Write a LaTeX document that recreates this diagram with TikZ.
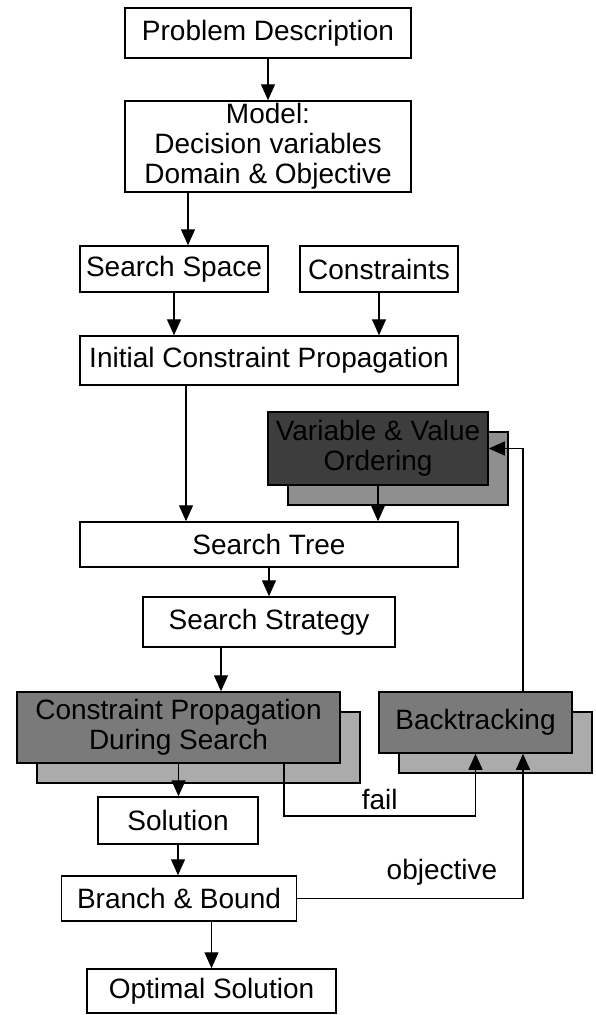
\documentclass[tikz,border=0pt]{standalone}
\usepackage{fontspec}
\setmainfont{Liberation Sans}
\definecolor{vvofill}{gray}{0.24}
\definecolor{stepfill}{gray}{0.48}
\definecolor{vvoshade}{gray}{0.56}
\definecolor{stepshade}{gray}{0.67}
\usetikzlibrary{arrows.meta, positioning, shadows}

\begin{document}
\begin{tikzpicture}[x=1pt,y=-1pt,font=\fontsize{28}{30}\selectfont,
          box/.style={draw,line width=1.5pt,fill=white,inner sep=0pt,align=center},
          shadebox/.style={box,copy shadow={shadow xshift=20pt,shadow yshift=-20pt,
                      draw,line width=1.2pt,fill=#1}},
          flow/.style={-{Triangle[length=16pt,width=14pt]},line width=1.4pt}]
        \useasboundingbox (0,0) rectangle (595,1015);
        \node[box,minimum width=286pt,minimum height=50pt] (pd) at (268,33) {Problem Description};
        \node[box,minimum width=286pt,minimum height=91pt] (model) at (268,146.5)
          {Model:\\Decision variables\\Domain \& Objective};
        \node[box,minimum width=188pt,minimum height=46pt] (space) at (174,269) {Search Space};
        \node[box,minimum width=158pt,minimum height=46pt] (cons) at (379,269) {Constraints};
        \node[box,minimum width=378pt,minimum height=49pt] (icp) at (269,360.5) {Initial Constraint Propagation};
        \node[shadebox=vvoshade,fill=vvofill,minimum width=220pt,minimum height=73pt] (vvo) at (378,448.5)
          {Variable \& Value\\Ordering};
        \node[box,minimum width=378pt,minimum height=45pt] (tree) at (269,544.5) {Search Tree};
        \node[box,minimum width=252pt,minimum height=50pt] (strat) at (269,622) {Search Strategy};
        \node[shadebox=stepshade,fill=stepfill,minimum width=323pt,minimum height=71pt] (cpds) at (178.5,727.5)
          {Constraint Propagation\\During Search};
        \node[shadebox=stepshade,fill=stepfill,minimum width=193pt,minimum height=61pt] (back) at (475.5,722.5)
          {Backtracking};
        \node[box,minimum width=160pt,minimum height=47pt] (sol) at (178,820.5) {Solution};
        \node[box,minimum width=235pt,minimum height=45pt] (bb) at (179,898.5) {Branch \& Bound};
        \node[box,minimum width=249pt,minimum height=44pt] (opt) at (211.5,991) {Optimal Solution};
        \coordinate (failturn) at (284,816);
        % main chain
        \draw[flow] (pd) -- (model);
        \draw[flow] ([xshift=14pt]space.north |- model.south) -- ([xshift=14pt]space.north);
        \draw[flow] (space.south) -- (space.south |- icp.north);
        \draw[flow] (cons.south) -- (cons.south |- icp.north);
        \draw[flow] ([xshift=-83pt]icp.south) -- ([xshift=-83pt]tree.north);
        \draw[flow] (vvo.south) -- (vvo.south |- tree.north);
        \draw[flow] (tree) -- (strat);
        \draw[flow] ([xshift=-48pt]strat.south) -- ([xshift=-48pt]strat.south |- cpds.north);
        \draw[flow] (cpds.south) -- (cpds.south |- sol.north);
        \draw[flow] (sol.south) -- (sol.south |- bb.north);
        \draw[flow] (bb.south -| opt.north) -- (opt.north);
        % loops back
        \draw[flow] (cpds.south -| failturn) -- (failturn)
          -| node[pos=0.25,above=2pt] (faillbl) {fail} (back.south);
        \draw[flow] (bb.east) -| ([xshift=47.5pt]back.south);
        \node (objlbl) at (442,872) {objective};
        \draw[flow] ([xshift=47.5pt]back.north) |- (vvo.east);
      \end{tikzpicture}
\end{document}
